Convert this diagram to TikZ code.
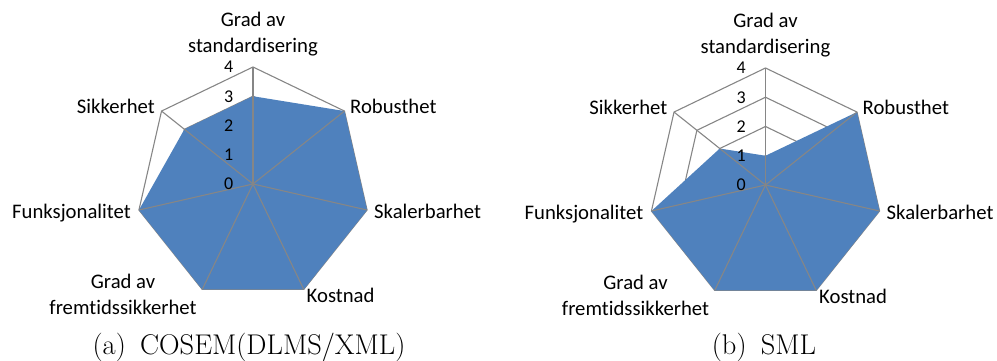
\documentclass[tikz,border=0pt]{standalone}
\usepackage{fontspec}
\newfontfamily\labfont[Ligatures=NoCommon]{Carlito}
\definecolor{areablue}{HTML}{4F81BD}
\definecolor{gridgray}{HTML}{868686}
\begin{document}
\begin{tikzpicture}[x=1pt,y=1pt,
  ring/.style={draw=gridgray, line width=1.1pt, line join=miter},
  spoke/.style={draw=gridgray, line width=1.1pt},
  valueaxis/.style={draw=gridgray, line width=1.8pt},
  area/.style={fill=areablue},
  axlabel/.style={font=\labfont\fontsize{20.7}{26}\selectfont, inner sep=0pt, align=center},
  ticklabel/.style={font=\labfont\fontsize{18}{21}\selectfont, inner sep=0pt, anchor=east},
  caption/.style={font=\fontsize{28.5}{32}\selectfont, inner sep=0pt, anchor=base}]

\useasboundingbox (0,0) rectangle (997,361);

% unit length of one step on the value scale
\def\unit{29.25}

% ---------- chart (a) ----------
\begin{scope}[shift={(253,177)}]
  \coordinate (ac) at (0,0);
  \foreach \i in {0,...,6} \coordinate (av\i) at ({90-\i*360/7}:4*\unit);
  % rings for the values 1 to 4
  \foreach \k in {1,...,4}
    \draw[ring] (90:\k*\unit) \foreach \i in {1,...,6} { -- ({90-\i*360/7}:\k*\unit) } -- cycle;
  % data: 3, 4, 4, 4, 4, 4, 3
  \fill[area] (90:3*\unit) -- (av1) -- (av2) -- (av3) -- (av4) -- (av5) -- ({90-6*360/7}:3*\unit) -- cycle;
  % spokes
  \foreach \i in {1,...,6} \draw[spoke] (ac) -- (av\i);
  \draw[valueaxis] (ac) -- (av0);
  % scale
  \foreach \k in {0,...,4} \node[ticklabel] (at\k) at (-19.5,\k*\unit) {\k};
  % axis names (two-line names sit on the baseline of their last line)
  \node[axlabel, anchor=base] (al0) at (0,131) {Grad av\\standardisering};
  \node[axlabel, anchor=base west] (al1) at (97,70) {Robusthet};
  \node[axlabel, anchor=base west] (al2) at (121,-35) {Skalerbarhet};
  \node[axlabel, anchor=base west] (al3) at (53.5,-118.7) {Kostnad};
  \node[axlabel, anchor=base] (al4) at (-130,-131) {Grad av\\fremtidssikkerhet};
  \node[axlabel, anchor=base east] (al5) at (-122,-35) {Funksjonalitet};
  \node[axlabel, anchor=base east] (al6) at (-98,70) {Sikkerhet};
\end{scope}

% ---------- chart (b) ----------
\begin{scope}[shift={(765.5,176)}]
  \coordinate (bc) at (0,0);
  \foreach \i in {0,...,6} \coordinate (bv\i) at ({90-\i*360/7}:4*\unit);
  \foreach \k in {1,...,4}
    \draw[ring] (90:\k*\unit) \foreach \i in {1,...,6} { -- ({90-\i*360/7}:\k*\unit) } -- cycle;
  % data: 1, 4, 4, 4, 4, 4, 2
  \fill[area] (90:1*\unit) -- (bv1) -- (bv2) -- (bv3) -- (bv4) -- (bv5) -- ({90-6*360/7}:2*\unit) -- cycle;
  \foreach \i in {1,...,6} \draw[spoke] (bc) -- (bv\i);
  \draw[valueaxis] (bc) -- (bv0);
  \foreach \k in {0,...,4} \node[ticklabel] (bt\k) at (-19.5,\k*\unit) {\k};
  \node[axlabel, anchor=base] (bl0) at (0,131) {Grad av\\standardisering};
  \node[axlabel, anchor=base west] (bl1) at (97,70) {Robusthet};
  \node[axlabel, anchor=base west] (bl2) at (121,-35) {Skalerbarhet};
  \node[axlabel, anchor=base west] (bl3) at (53.5,-118.7) {Kostnad};
  \node[axlabel, anchor=base] (bl4) at (-130,-131) {Grad av\\fremtidssikkerhet};
  \node[axlabel, anchor=base east] (bl5) at (-122,-35) {Funksjonalitet};
  \node[axlabel, anchor=base east] (bl6) at (-98,70) {Sikkerhet};
\end{scope}

% ---------- captions ----------
\node[caption] (capa) at (249,6) {(a)\hspace{0.5em}COSEM(DLMS/XML)};
\node[caption] (capb) at (764,6) {(b)\hspace{0.5em}SML};
\end{tikzpicture}
\end{document}
